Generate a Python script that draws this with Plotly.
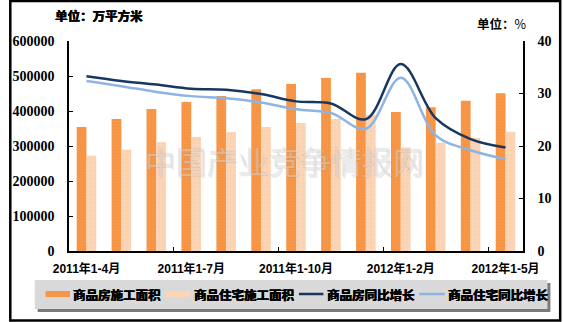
import plotly.graph_objects as go

# 2011-2012 cumulative construction area and year-on-year growth
months = ["2011年1-4月", "2011年1-5月", "2011年1-6月", "2011年1-7月", "2011年1-8月",
          "2011年1-9月", "2011年1-10月", "2011年1-11月", "2011年1-12月",
          "2012年1-2月", "2012年1-3月", "2012年1-4月", "2012年1-5月"]
tick_months = ["2011年1-4月", "2011年1-7月", "2011年1-10月", "2012年1-2月", "2012年1-5月"]

area_all = [354000, 377000, 406000, 426000, 443000, 462000, 477000,
            494000, 509000, 397000, 411000, 429000, 451000]
area_res = [272000, 289000, 311000, 326000, 340000, 354000, 366000,
            377000, 389000, 296000, 309000, 323000, 341000]
growth_all = [33.3, 32.4, 31.7, 30.9, 30.7, 29.9, 28.5, 28.1, 25.1, 35.6, 25.3, 21.3, 19.7]
growth_res = [32.4, 31.4, 30.3, 29.5, 29.1, 28.3, 27.0, 26.3, 23.3, 33.0, 22.0, 19.2, 17.5]

names = ["商品房施工面积", "商品住宅施工面积", "商品房同比增长", "商品住宅同比增长"]
colors = ["#F79646", "#FCD5B5", "#17375E", "#8DB4E2"]

CJK = "Noto Sans CJK SC"
NUM = "Liberation Serif"
HEAVY = "0.4px 0 0 black, -0.2px 0 0 black"

fig = go.Figure()
fig.add_trace(go.Bar(x=months, y=area_all, name=names[0], marker_color=colors[0],
                     marker_line_width=0,
                     marker_pattern=dict(shape=".", fgcolor="#EE8A3C", size=3, solidity=0.15),
                     showlegend=False))
fig.add_trace(go.Bar(x=months, y=area_res, name=names[1], marker_color=colors[1],
                     marker_line_width=0,
                     marker_pattern=dict(shape=".", fgcolor="#E9B3B8", size=4, solidity=0.12),
                     showlegend=False))
fig.add_trace(go.Scatter(x=months, y=growth_all, name=names[2], yaxis="y2", mode="lines",
                         line=dict(color=colors[2], width=2.5, shape="spline", smoothing=1.0),
                         showlegend=False))
fig.add_trace(go.Scatter(x=months, y=growth_res, name=names[3], yaxis="y2", mode="lines",
                         line=dict(color=colors[3], width=2.5, shape="spline", smoothing=1.0),
                         showlegend=False))

# pixel -> paper helpers (plot area spans x 61..525, y 41..251)
L, R, T, B = 61, 525, 41, 251
W, H = R - L, B - T


def px(x):
    return (x - L) / W


def py(y):
    return (B - y) / H


shapes = []
annotations = []

# outer frame
shapes.append(dict(type="rect", xref="paper", yref="paper",
                   x0=px(1), x1=px(563), y0=py(1), y1=py(320.5),
                   line=dict(color="black", width=2.5), layer="above"))

# legend box with drop shadow
shapes.append(dict(type="rect", xref="paper", yref="paper",
                   x0=px(29), x1=px(553), y0=py(283), y1=py(312),
                   fillcolor="#7a7a7a", line_width=0, layer="below"))
shapes.append(dict(type="rect", xref="paper", yref="paper",
                   x0=px(26), x1=px(550), y0=py(280), y1=py(309),
                   fillcolor="#D9D9D9", line_width=0, layer="below"))

legend_items = [
    (37, 62, 64, "bar"),
    (160, 185, 188, "bar"),
    (296, 321, 324, "line"),
    (419, 445, 447, "line"),
]
ly = 294
for (sx0, sx1, tx, kind), name, col in zip(legend_items, names, colors):
    if kind == "bar":
        shapes.append(dict(type="rect", xref="paper", yref="paper",
                           x0=px(sx0), x1=px(sx1), y0=py(ly + 3), y1=py(ly - 3),
                           fillcolor=col, line_width=0))
    else:
        shapes.append(dict(type="line", xref="paper", yref="paper",
                           x0=px(sx0), x1=px(sx1), y0=py(ly), y1=py(ly),
                           line=dict(color=col, width=2.5)))
    annotations.append(dict(xref="paper", yref="paper", x=px(tx), y=py(ly),
                            xanchor="left", yanchor="middle", showarrow=False,
                            borderpad=0, text=name,
                            font=dict(family=CJK, size=12.5, color="black",
                                      weight=700, shadow=HEAVY)))

# unit labels
annotations.append(dict(xref="paper", yref="paper", x=px(46), y=py(15),
                        xanchor="left", yanchor="middle", showarrow=False,
                        borderpad=0, text="单位：万平方米",
                        font=dict(family=CJK, size=12.5, color="black",
                                  weight=700, shadow=HEAVY)))
annotations.append(dict(xref="paper", yref="paper", x=px(477), y=py(23),
                        xanchor="left", yanchor="middle", showarrow=False,
                        borderpad=0, text="<b>单位：</b>%",
                        font=dict(family=CJK, size=12.5, color="black")))

# watermark
annotations.append(dict(xref="paper", yref="paper", x=px(281), y=py(160),
                        xanchor="center", yanchor="middle", showarrow=False,
                        text="中国产业竞争情报网",
                        font=dict(family=CJK, size=31, color="rgba(235,235,235,0.35)",
                                  shadow="0.8px 0.8px 0 rgba(150,150,150,0.55), "
                                         "-0.8px -0.8px 0 rgba(150,150,150,0.55)")))

fig.update_layout(
    width=564, height=322,
    margin=dict(l=L, r=564 - R, t=T, b=322 - B, pad=0),
    paper_bgcolor="white", plot_bgcolor="white",
    barmode="group", bargap=0.44, bargroupgap=0,
    showlegend=False,
    shapes=shapes, annotations=annotations,
    xaxis=dict(type="category", categoryorder="array", categoryarray=months,
               tickvals=tick_months, ticktext=tick_months, tickangle=0,
               tickson="boundaries", ticks="inside", ticklen=4, tickcolor="black",
               showline=True, linecolor="black", linewidth=1.5, showgrid=False,
               tickfont=dict(family="Liberation Sans, " + CJK, size=12, color="black",
                             weight=700),
               ticklabelstandoff=6),
    yaxis=dict(range=[0, 600000], dtick=100000, tickformat="d",
               ticks="inside", ticklen=4, tickcolor="black",
               showline=True, linecolor="black", linewidth=1.5, showgrid=False,
               zeroline=False,
               tickfont=dict(family=NUM, size=14, color="black", weight="bold"),
               ticklabelstandoff=10),
    yaxis2=dict(range=[0, 40], dtick=10, overlaying="y", side="right",
                ticks="inside", ticklen=4, tickcolor="black",
                showline=True, linecolor="black", linewidth=1.5, showgrid=False,
                zeroline=False,
                tickfont=dict(family=NUM, size=14, color="black", weight="bold"),
                ticklabelstandoff=10),
)

fig.write_html("out.html")
